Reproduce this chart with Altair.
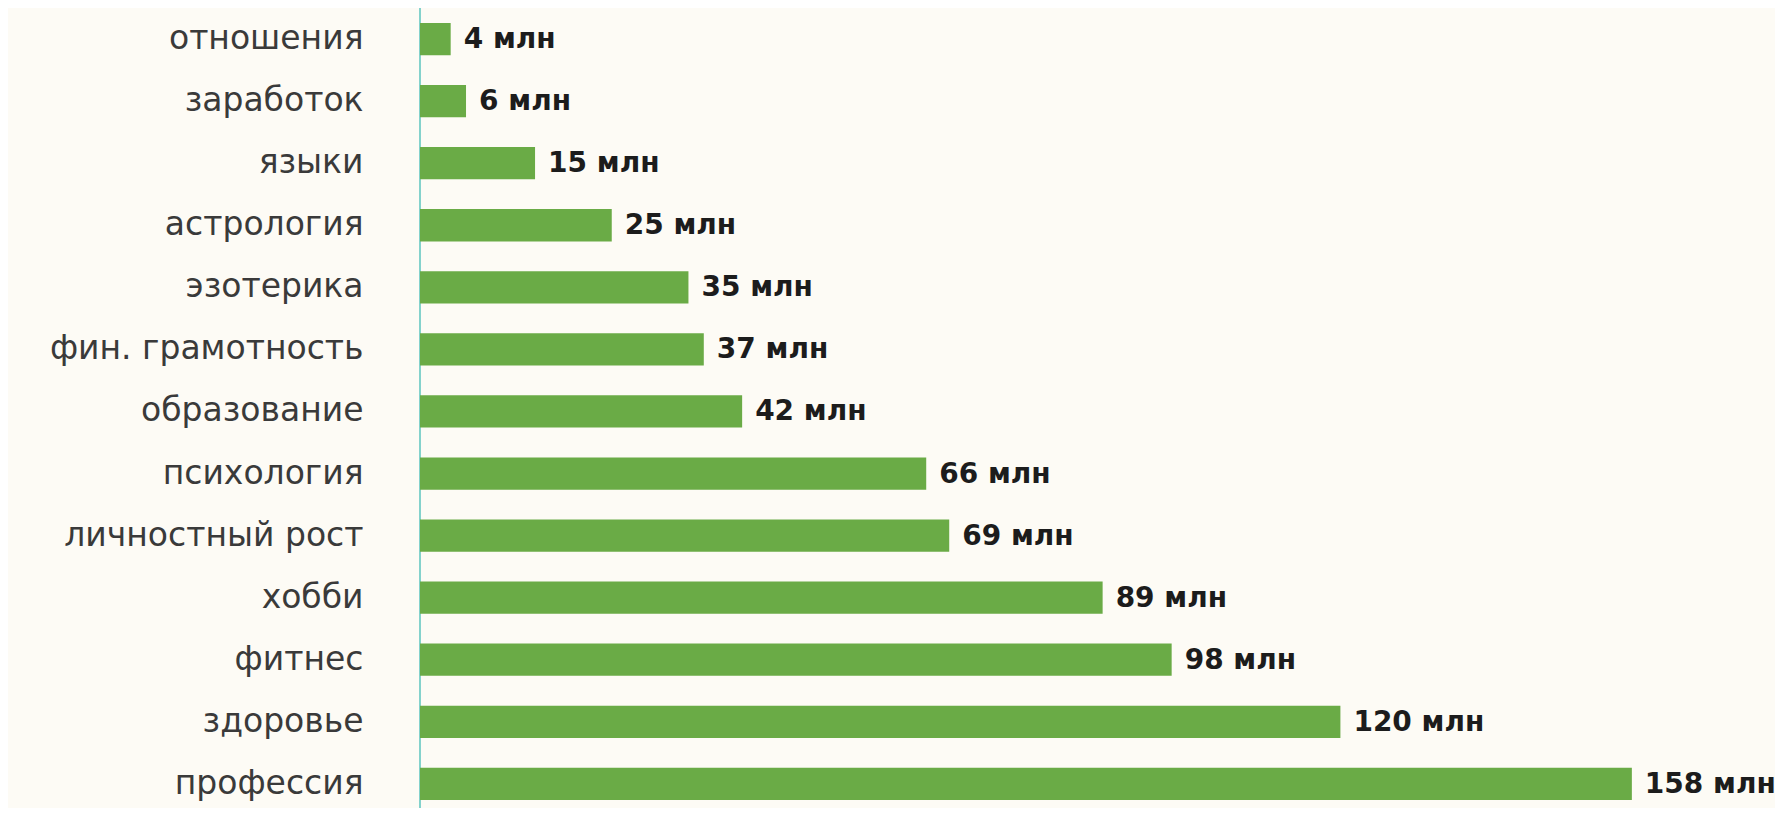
import altair as alt
import pandas as pd

categories = ["отношения", "заработок", "языки", "астрология", "эзотерика",
              "фин. грамотность", "образование", "психология", "личностный рост",
              "хобби", "фитнес", "здоровье", "профессия"]
values = [4, 6, 15, 25, 35, 37, 42, 66, 69, 89, 98, 120, 158]
labels = [f"{v} млн" for v in values]

df = pd.DataFrame({"cat": categories, "val": values, "lab": labels})

W = 1355
H = 792
xmax = W / 7.67

y = alt.Y("cat:N", sort=categories,
          scale=alt.Scale(paddingInner=0.48, paddingOuter=0.12, align=1),
          axis=alt.Axis(title=None, ticks=False, domain=False, labelFontSize=33,
                        labelFont="DejaVu Sans", labelColor="#3a3a3a",
                        labelPadding=57, labelLimit=500))
x = alt.X("val:Q", scale=alt.Scale(domain=[0, xmax], nice=False), axis=None)

bars = alt.Chart(df).mark_bar(color="#6aab46").encode(x=x, y=y)
text = alt.Chart(df).mark_text(align="left", baseline="middle", dx=13, dy=1,
                               font="DejaVu Sans", fontWeight="bold", fontSize=28,
                               color="#1c1c1c").encode(x=x, y=y, text="lab:N")
rule = alt.Chart(df).mark_rule(color="#84d2cc", strokeWidth=2).encode(
    x=alt.value(0), y=alt.value(-8), y2=alt.value(H + 8))

chart = (rule + bars + text).properties(
    width=W, height=H,
    autosize=alt.AutoSizeParams(type="none"),
    padding={"left": 412, "top": 0, "right": 0, "bottom": 8},
    background="#fdfbf5",
).configure_view(stroke=None)

chart.save("out.html", embed_options={"renderer": "svg", "actions": False})
